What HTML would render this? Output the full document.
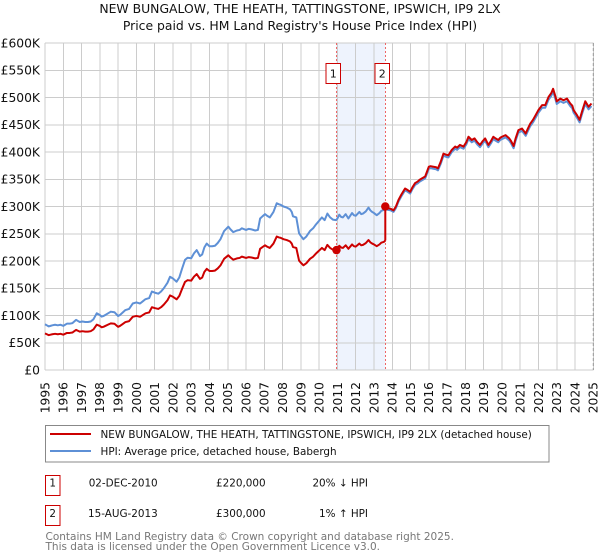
<!DOCTYPE html>
<html><head><meta charset="utf-8"><style>
html,body{margin:0;padding:0;background:#fff;}
svg{display:block;font-family:"DejaVu Sans","Liberation Sans",sans-serif;}
</style></head><body>
<svg width="600" height="560" viewBox="0 0 600 560" xmlns="http://www.w3.org/2000/svg">
<rect width="600" height="560" fill="#fff"/>
<text x="300" y="13" font-size="12.4" text-anchor="middle" fill="#111">NEW BUNGALOW, THE HEATH, TATTINGSTONE, IPSWICH, IP9 2LX</text>
<text x="300" y="30" font-size="12.4" text-anchor="middle" fill="#111">Price paid vs. HM Land Registry's House Price Index (HPI)</text>

<!-- shaded region -->
<rect x="336" y="43" width="49.3" height="327" fill="#eef3fd"/>

<!-- grid -->
<g stroke="#cccccc" stroke-width="1" shape-rendering="crispEdges">
<line x1="45" y1="43" x2="593.3" y2="43"/>
<line x1="45" y1="70.25" x2="593.3" y2="70.25"/>
<line x1="45" y1="97.5" x2="593.3" y2="97.5"/>
<line x1="45" y1="124.75" x2="593.3" y2="124.75"/>
<line x1="45" y1="152" x2="593.3" y2="152"/>
<line x1="45" y1="179.25" x2="593.3" y2="179.25"/>
<line x1="45" y1="206.5" x2="593.3" y2="206.5"/>
<line x1="45" y1="233.75" x2="593.3" y2="233.75"/>
<line x1="45" y1="261" x2="593.3" y2="261"/>
<line x1="45" y1="288.25" x2="593.3" y2="288.25"/>
<line x1="45" y1="315.5" x2="593.3" y2="315.5"/>
<line x1="45" y1="342.75" x2="593.3" y2="342.75"/>
<line x1="45" y1="370" x2="593.3" y2="370"/>
<line x1="45" y1="43" x2="45" y2="370"/>
<line x1="63.28" y1="43" x2="63.28" y2="370"/>
<line x1="81.55" y1="43" x2="81.55" y2="370"/>
<line x1="99.83" y1="43" x2="99.83" y2="370"/>
<line x1="118.11" y1="43" x2="118.11" y2="370"/>
<line x1="136.39" y1="43" x2="136.39" y2="370"/>
<line x1="154.66" y1="43" x2="154.66" y2="370"/>
<line x1="172.94" y1="43" x2="172.94" y2="370"/>
<line x1="191.22" y1="43" x2="191.22" y2="370"/>
<line x1="209.49" y1="43" x2="209.49" y2="370"/>
<line x1="227.77" y1="43" x2="227.77" y2="370"/>
<line x1="246.05" y1="43" x2="246.05" y2="370"/>
<line x1="264.32" y1="43" x2="264.32" y2="370"/>
<line x1="282.6" y1="43" x2="282.6" y2="370"/>
<line x1="300.88" y1="43" x2="300.88" y2="370"/>
<line x1="319.16" y1="43" x2="319.16" y2="370"/>
<line x1="337.43" y1="43" x2="337.43" y2="370"/>
<line x1="355.71" y1="43" x2="355.71" y2="370"/>
<line x1="373.99" y1="43" x2="373.99" y2="370"/>
<line x1="392.26" y1="43" x2="392.26" y2="370"/>
<line x1="410.54" y1="43" x2="410.54" y2="370"/>
<line x1="428.82" y1="43" x2="428.82" y2="370"/>
<line x1="447.09" y1="43" x2="447.09" y2="370"/>
<line x1="465.37" y1="43" x2="465.37" y2="370"/>
<line x1="483.65" y1="43" x2="483.65" y2="370"/>
<line x1="501.93" y1="43" x2="501.93" y2="370"/>
<line x1="520.2" y1="43" x2="520.2" y2="370"/>
<line x1="538.48" y1="43" x2="538.48" y2="370"/>
<line x1="556.76" y1="43" x2="556.76" y2="370"/>
<line x1="575.03" y1="43" x2="575.03" y2="370"/>
<line x1="593.3" y1="43" x2="593.3" y2="370"/>
</g>
<line x1="593.3" y1="43" x2="593.3" y2="370" stroke="#999" stroke-width="1" stroke-dasharray="3,2"/>

<!-- sale lines -->
<line x1="336.5" y1="43" x2="336.5" y2="370" stroke="#e66" stroke-width="1" stroke-dasharray="2,2"/>
<line x1="385.5" y1="43" x2="385.5" y2="370" stroke="#e66" stroke-width="1" stroke-dasharray="2,2"/>

<!-- y labels -->
<g font-size="12.3" text-anchor="end" fill="#111">
<text x="40" y="47.4">£600K</text>
<text x="40" y="74.6">£550K</text>
<text x="40" y="101.9">£500K</text>
<text x="40" y="129.1">£450K</text>
<text x="40" y="156.4">£400K</text>
<text x="40" y="183.6">£350K</text>
<text x="40" y="210.9">£300K</text>
<text x="40" y="238.1">£250K</text>
<text x="40" y="265.4">£200K</text>
<text x="40" y="292.6">£150K</text>
<text x="40" y="319.9">£100K</text>
<text x="40" y="347.1">£50K</text>
<text x="40" y="374.4">£0</text>
</g>

<!-- x labels -->
<g font-size="12.3" text-anchor="end" fill="#111">
<text transform="translate(49.4,382) rotate(-90)">1995</text>
<text transform="translate(67.7,382) rotate(-90)">1996</text>
<text transform="translate(86,382) rotate(-90)">1997</text>
<text transform="translate(104.2,382) rotate(-90)">1998</text>
<text transform="translate(122.5,382) rotate(-90)">1999</text>
<text transform="translate(140.8,382) rotate(-90)">2000</text>
<text transform="translate(159.1,382) rotate(-90)">2001</text>
<text transform="translate(177.3,382) rotate(-90)">2002</text>
<text transform="translate(195.6,382) rotate(-90)">2003</text>
<text transform="translate(213.9,382) rotate(-90)">2004</text>
<text transform="translate(232.2,382) rotate(-90)">2005</text>
<text transform="translate(250.4,382) rotate(-90)">2006</text>
<text transform="translate(268.7,382) rotate(-90)">2007</text>
<text transform="translate(287,382) rotate(-90)">2008</text>
<text transform="translate(305.3,382) rotate(-90)">2009</text>
<text transform="translate(323.6,382) rotate(-90)">2010</text>
<text transform="translate(341.8,382) rotate(-90)">2011</text>
<text transform="translate(360.1,382) rotate(-90)">2012</text>
<text transform="translate(378.4,382) rotate(-90)">2013</text>
<text transform="translate(396.7,382) rotate(-90)">2014</text>
<text transform="translate(414.9,382) rotate(-90)">2015</text>
<text transform="translate(433.2,382) rotate(-90)">2016</text>
<text transform="translate(451.5,382) rotate(-90)">2017</text>
<text transform="translate(469.8,382) rotate(-90)">2018</text>
<text transform="translate(488,382) rotate(-90)">2019</text>
<text transform="translate(506.3,382) rotate(-90)">2020</text>
<text transform="translate(524.6,382) rotate(-90)">2021</text>
<text transform="translate(542.9,382) rotate(-90)">2022</text>
<text transform="translate(561.2,382) rotate(-90)">2023</text>
<text transform="translate(579.4,382) rotate(-90)">2024</text>
<text transform="translate(597.7,382) rotate(-90)">2025</text>
</g>

<!-- HPI blue pre -->
<polyline fill="none" stroke="#5e90d6" stroke-width="2" stroke-linejoin="round" vector-effect="non-scaling-stroke" transform="matrix(18.277,0,0,-0.545,45,370)" points="0,84 0.1,82 0.2,80 0.3,81 0.4,82 0.55,83 0.7,82 0.85,83 1,81 1.1,83 1.2,85 1.35,85 1.5,86 1.6,89 1.7,92 1.8,90 1.9,88 2.05,89 2.2,88 2.35,88 2.5,89 2.65,93 2.83,104 3,101 3.1,98 3.2,99 3.3,101 3.45,104 3.6,107 3.8,106 4,99 4.1,101 4.2,104 4.4,110 4.6,112 4.8,122 5,124 5.2,122 5.35,126 5.5,130 5.7,132 5.85,144 6,142 6.2,140 6.35,144 6.5,150 6.7,160 6.84,171 7,168 7.2,162 7.35,170 7.5,186 7.66,202 7.8,206 8,205 8.15,214 8.3,220 8.48,209 8.6,212 8.72,225 8.85,232 9,227 9.15,227 9.3,228 9.45,233 9.6,240 9.8,255 10.03,263 10.15,258 10.3,253 10.5,256 10.65,257 10.77,260 11,257 11.15,259 11.3,258 11.5,256 11.65,257 11.77,278 11.9,282 12.04,286 12.15,283 12.3,280 12.5,290 12.68,306 12.8,304 12.9,303 13.05,300 13.23,298 13.4,295 13.5,290 13.57,282 13.75,280 13.9,251 14,246 14.14,240 14.3,245 14.5,255 14.67,260 14.8,266 14.9,270 15.05,276 15.15,280 15.3,275 15.45,287 15.6,280 15.75,276 15.92,275 16,278 16.1,285 16.2,281 16.3,280 16.45,286 16.6,278 16.8,288 16.9,284 17,283 17.2,290 17.3,286 17.4,287 17.55,291 17.7,298 17.8,293 17.9,290 18,288 18.15,284 18.3,288 18.4,292 18.55,294 18.62,297"/>
<!-- HPI blue post -->
<polyline fill="none" stroke="#5e90d6" stroke-width="2" stroke-linejoin="round" vector-effect="non-scaling-stroke" transform="matrix(18.277,0,0,-0.5396,45,370)" points="18.62,300 18.75,297 18.9,296 19.07,293 19.2,300 19.34,312 19.5,322 19.7,333 19.85,330 19.98,327 20.1,335 20.25,343 20.4,346 20.5,349 20.65,352 20.8,355 21,373 21.1,374 21.25,373 21.4,372 21.5,370 21.65,382 21.8,397 21.95,395 22.07,394 22.26,404 22.44,410 22.55,408 22.7,413 22.9,410 23.05,418 23.17,428 23.35,422 23.5,425 23.65,418 23.8,413 23.95,420 24.08,425 24.26,413 24.4,420 24.53,428 24.65,425 24.8,422 24.9,426 25,428 25.2,431 25.4,425 25.5,420 25.64,411 25.75,425 25.9,440 26.1,443 26.3,434 26.45,445 26.55,452 26.7,459 26.85,468 27,477 27.2,486 27.37,486 27.55,501 27.7,508 27.8,516 27.9,505 28,493 28.2,498 28.37,495 28.56,498 28.74,489 28.85,485 28.92,477 29.1,468 29.25,459 29.38,474 29.56,493 29.74,483 29.9,489"/>

<!-- red pre -->
<polyline fill="none" stroke="#cc0000" stroke-width="2" stroke-linejoin="round" vector-effect="non-scaling-stroke" transform="matrix(18.277,0,0,-0.436,45,370)" points="0,84 0.1,82 0.2,80 0.3,81 0.4,82 0.55,83 0.7,82 0.85,83 1,81 1.1,83 1.2,85 1.35,85 1.5,86 1.6,89 1.7,92 1.8,90 1.9,88 2.05,89 2.2,88 2.35,88 2.5,89 2.65,93 2.83,104 3,101 3.1,98 3.2,99 3.3,101 3.45,104 3.6,107 3.8,106 4,99 4.1,101 4.2,104 4.4,110 4.6,112 4.8,122 5,124 5.2,122 5.35,126 5.5,130 5.7,132 5.85,144 6,142 6.2,140 6.35,144 6.5,150 6.7,160 6.84,171 7,168 7.2,162 7.35,170 7.5,186 7.66,202 7.8,206 8,205 8.15,214 8.3,220 8.48,209 8.6,212 8.72,225 8.85,232 9,227 9.15,227 9.3,228 9.45,233 9.6,240 9.8,255 10.03,263 10.15,258 10.3,253 10.5,256 10.65,257 10.77,260 11,257 11.15,259 11.3,258 11.5,256 11.65,257 11.77,278 11.9,282 12.04,286 12.15,283 12.3,280 12.5,290 12.68,306 12.8,304 12.9,303 13.05,300 13.23,298 13.4,295 13.5,290 13.57,282 13.75,280 13.9,251 14,246 14.14,240 14.3,245 14.5,255 14.67,260 14.8,266 14.9,270 15.05,276 15.15,280 15.3,275 15.45,287 15.6,280 15.75,276 15.92,275 16,278 16.1,285 16.2,281 16.3,280 16.45,286 16.6,278 16.8,288 16.9,284 17,283 17.2,290 17.3,286 17.4,287 17.55,291 17.7,298 17.8,293 17.9,290 18,288 18.15,284 18.3,288 18.4,292 18.55,294 18.62,297"/>
<line x1="385.3" y1="240.5" x2="385.3" y2="206.5" stroke="#cc0000" stroke-width="2"/>
<!-- red post -->
<polyline fill="none" stroke="#cc0000" stroke-width="2" stroke-linejoin="round" vector-effect="non-scaling-stroke" transform="matrix(18.277,0,0,-0.545,45,370)" points="18.62,300 18.75,297 18.9,296 19.07,293 19.2,300 19.34,312 19.5,322 19.7,333 19.85,330 19.98,327 20.1,335 20.25,343 20.4,346 20.5,349 20.65,352 20.8,355 21,373 21.1,374 21.25,373 21.4,372 21.5,370 21.65,382 21.8,397 21.95,395 22.07,394 22.26,404 22.44,410 22.55,408 22.7,413 22.9,410 23.05,418 23.17,428 23.35,422 23.5,425 23.65,418 23.8,413 23.95,420 24.08,425 24.26,413 24.4,420 24.53,428 24.65,425 24.8,422 24.9,426 25,428 25.2,431 25.4,425 25.5,420 25.64,411 25.75,425 25.9,440 26.1,443 26.3,434 26.45,445 26.55,452 26.7,459 26.85,468 27,477 27.2,486 27.37,486 27.55,501 27.7,508 27.8,516 27.9,505 28,493 28.2,498 28.37,495 28.56,498 28.74,489 28.85,485 28.92,477 29.1,468 29.25,459 29.38,474 29.56,493 29.74,483 29.9,489"/>

<!-- sale markers -->
<circle cx="336.5" cy="250.1" r="4.2" fill="#cc0000"/>
<circle cx="385.3" cy="206.5" r="4.2" fill="#cc0000"/>

<!-- numbered boxes on chart -->
<rect x="326" y="63.5" width="14.5" height="20" fill="#fff" stroke="#cc0000" stroke-width="1"/>
<text x="333.2" y="77.5" font-size="11" text-anchor="middle" fill="#111">1</text>
<rect x="375" y="63.5" width="14.5" height="20" fill="#fff" stroke="#cc0000" stroke-width="1"/>
<text x="382.2" y="77.5" font-size="11" text-anchor="middle" fill="#111">2</text>

<!-- legend -->
<rect x="45.5" y="425.5" width="503.5" height="36.5" fill="#fff" stroke="#888" stroke-width="1"/>
<line x1="50" y1="434" x2="91" y2="434" stroke="#cc0000" stroke-width="2"/>
<line x1="50" y1="451" x2="91" y2="451" stroke="#5e90d6" stroke-width="2"/>
<g font-size="10.4" fill="#111">
<text x="100.5" y="437.8">NEW BUNGALOW, THE HEATH, TATTINGSTONE, IPSWICH, IP9 2LX (detached house)</text>
<text x="100.5" y="454.8">HPI: Average price, detached house, Babergh</text>
</g>

<!-- table -->
<rect x="45.5" y="475.5" width="14.5" height="20" fill="#fff" stroke="#cc0000" stroke-width="1"/>
<rect x="45.5" y="505.5" width="14.5" height="20" fill="#fff" stroke="#cc0000" stroke-width="1"/>
<g font-size="10.4" fill="#111">
<text x="52.7" y="486.6" text-anchor="middle">1</text>
<text x="157.7" y="486.6" text-anchor="end">02-DEC-2010</text>
<text x="216" y="486.6">£220,000</text>
<text x="368" y="486.6" text-anchor="end">20% ↓ HPI</text>
<text x="52.7" y="517" text-anchor="middle">2</text>
<text x="157.7" y="517" text-anchor="end">15-AUG-2013</text>
<text x="216" y="517">£300,000</text>
<text x="368" y="517" text-anchor="end">1% ↑ HPI</text>
</g>

<!-- footer -->
<g font-size="10.5" fill="#777">
<text x="45.5" y="540">Contains HM Land Registry data © Crown copyright and database right 2025.</text>
<text x="45.5" y="550">This data is licensed under the Open Government Licence v3.0.</text>
</g>
</svg>
</body></html>
